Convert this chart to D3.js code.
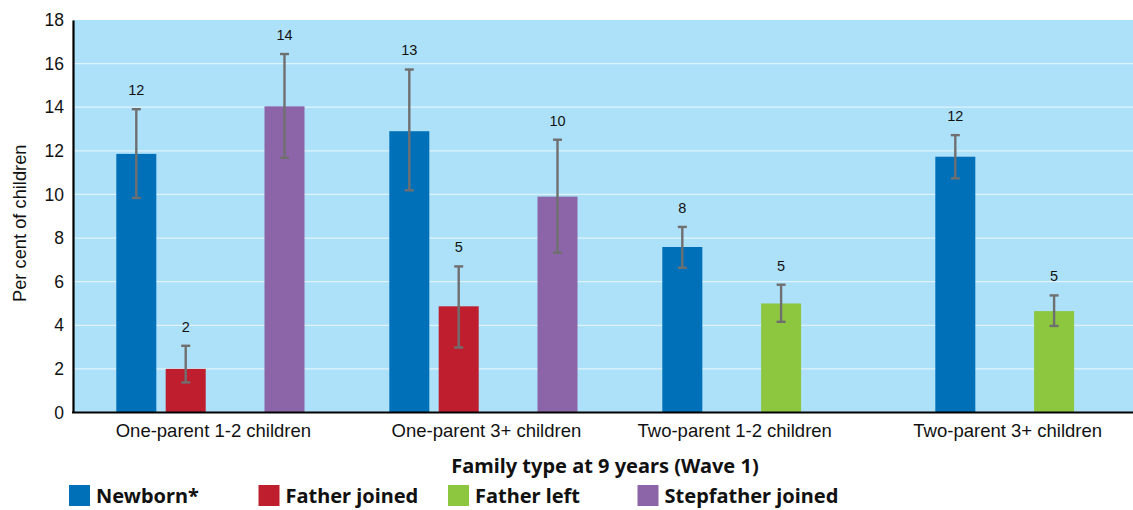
<!DOCTYPE html>
<html>
<head>
<meta charset="utf-8">
<script src="https://cdn.jsdelivr.net/npm/d3@7"></script>
<style>
  html, body { margin: 0; padding: 0; background: #ffffff; }
  svg { display: block; }
</style>
</head>
<body>
<svg id="chart" width="1133" height="510"></svg>
<script>
// ---- data ----
const categories = ["One-parent 1-2 children", "One-parent 3+ children", "Two-parent 1-2 children", "Two-parent 3+ children"];
const seriesNames = ["Newborn*", "Father joined", "Father left", "Stepfather joined"];
const newborn          = [11.86, 12.90, 7.59, 11.73];
const newbornLow       = [9.84, 10.19, 6.64, 10.74];
const newbornHigh      = [13.91, 15.73, 8.51, 12.72];
const fatherJoined     = [2.00, 4.87, null, null];
const fatherJoinedLow  = [1.38, 2.98, null, null];
const fatherJoinedHigh = [3.06, 6.70, null, null];
const fatherLeft       = [null, null, 5.00, 4.65];
const fatherLeftLow    = [null, null, 4.16, 3.97];
const fatherLeftHigh   = [null, null, 5.86, 5.37];
const stepfather       = [14.04, 9.90, null, null];
const stepfatherLow    = [11.68, 7.33, null, null];
const stepfatherHigh   = [16.44, 12.51, null, null];
const yTicks = [0, 2, 4, 6, 8, 10, 12, 14, 16, 18];
const yTitle = "Per cent of children";
const xTitle = "Family type at 9 years (Wave 1)";

const seriesValues = [newborn, fatherJoined, fatherLeft, stepfather];
const seriesLow = [newbornLow, fatherJoinedLow, fatherLeftLow, stepfatherLow];
const seriesHigh = [newbornHigh, fatherJoinedHigh, fatherLeftHigh, stepfatherHigh];
const colors = ["#0071b9", "#be1e2d", "#8dc63f", "#8c65a8"];

// ---- layout ----
const W = 1133, H = 510;
const plotLeft = 73, plotRight = 1133, plotTop = 20, plotBottom = 412.5;

const svg = d3.select("#chart");

const y = d3.scaleLinear().domain([0, 18]).range([plotBottom, plotTop]);
const x0 = d3.scaleBand().domain(categories).range([73.5, 1165.5]).paddingInner(0).paddingOuter(0);
const x1 = d3.scaleBand().domain(seriesNames).range([42.8, 231]).paddingInner(0.19).paddingOuter(0);
const color = d3.scaleOrdinal().domain(seriesNames).range(colors);

// background
svg.append("rect")
  .attr("x", plotLeft).attr("y", plotTop)
  .attr("width", plotRight - plotLeft).attr("height", plotBottom - plotTop)
  .attr("fill", "#ade1fa");

// gridlines
svg.append("g").selectAll("line")
  .data(yTicks.filter(t => t > 0 && t < 18))
  .join("line")
  .attr("x1", plotLeft).attr("x2", plotRight)
  .attr("y1", d => y(d)).attr("y2", d => y(d))
  .attr("stroke", "#dff3fd").attr("stroke-width", 1.2);

// flatten bar data
const bars = [];
categories.forEach((c, ci) => {
  seriesNames.forEach((s, si) => {
    const v = seriesValues[si][ci];
    if (v !== null) {
      bars.push({ cat: c, series: s, value: v, low: seriesLow[si][ci], high: seriesHigh[si][ci] });
    }
  });
});

const groups = svg.append("g");
groups.selectAll("rect.bar")
  .data(bars)
  .join("rect")
  .attr("class", "bar")
  .attr("x", d => x0(d.cat) + x1(d.series))
  .attr("y", d => y(d.value))
  .attr("width", x1.bandwidth())
  .attr("height", d => y(0) - y(d.value))
  .attr("fill", d => color(d.series));

// error bars
const eb = svg.append("g").attr("stroke", "#6f6f70").attr("stroke-width", 2.4).attr("fill", "none");
bars.forEach(d => {
  const cx = x0(d.cat) + x1(d.series) + x1.bandwidth() / 2;
  eb.append("line").attr("x1", cx).attr("x2", cx).attr("y1", y(d.high)).attr("y2", y(d.low));
  eb.append("line").attr("x1", cx - 4.5).attr("x2", cx + 4.5).attr("y1", y(d.high)).attr("y2", y(d.high));
  eb.append("line").attr("x1", cx - 4.5).attr("x2", cx + 4.5).attr("y1", y(d.low)).attr("y2", y(d.low));
});

// value labels
svg.append("g").selectAll("text")
  .data(bars)
  .join("text")
  .attr("x", d => x0(d.cat) + x1(d.series) + x1.bandwidth() / 2)
  .attr("y", d => y(d.high) - 14)
  .attr("text-anchor", "middle")
  .attr("font-family", "Liberation Sans, Arial, sans-serif")
  .attr("font-size", 14.5)
  .attr("fill", "#111")
  .text(d => d3.format(".0f")(d.value));

// y axis
const yAxis = svg.append("g")
  .attr("transform", `translate(${plotLeft},0)`)
  .call(d3.axisLeft(y).tickValues(yTicks).tickSize(0).tickPadding(9));
yAxis.select(".domain").attr("stroke", "#000").attr("stroke-width", 2.2);
yAxis.selectAll("text")
  .attr("font-family", "Liberation Sans, Arial, sans-serif")
  .attr("font-size", 17.5)
  .attr("fill", "#111");

// x axis line
svg.append("line")
  .attr("x1", plotLeft - 1).attr("x2", plotRight)
  .attr("y1", y(0)).attr("y2", y(0))
  .attr("stroke", "#000").attr("stroke-width", 2);

// x category labels: centred on the extent of the bars present in each group
const labelCenter = c => {
  const bs = bars.filter(b => b.cat === c);
  const lo = d3.min(bs, b => x0(c) + x1(b.series));
  const hi = d3.max(bs, b => x0(c) + x1(b.series) + x1.bandwidth());
  return (lo + hi) / 2;
};
svg.append("g").selectAll("text")
  .data(categories)
  .join("text")
  .attr("x", d => labelCenter(d) + 3)
  .attr("y", 437)
  .attr("text-anchor", "middle")
  .attr("font-family", "Liberation Sans, Arial, sans-serif")
  .attr("font-size", 18.5)
  .attr("fill", "#111")
  .text(d => d);

// y title
svg.append("text")
  .attr("transform", `translate(26,${(plotTop + plotBottom) / 2 + 7}) rotate(-90)`)
  .attr("text-anchor", "middle")
  .attr("font-family", "Liberation Sans, Arial, sans-serif")
  .attr("font-size", 18.3)
  .attr("fill", "#111")
  .text(yTitle);

// x title
svg.append("text")
  .attr("x", 605).attr("y", 473)
  .attr("text-anchor", "middle")
  .attr("font-family", "Noto Sans, sans-serif")
  .attr("font-weight", "bold")
  .attr("font-size", 20)
  .attr("fill", "#111")
  .text(xTitle);

// legend
const legendX = d3.scalePoint().domain(seriesNames).range([69, 69 + 3 * 189.5]);
const leg = svg.append("g").selectAll("g")
  .data(seriesNames)
  .join("g")
  .attr("transform", d => `translate(${legendX(d)},485)`);
leg.append("rect").attr("width", 21).attr("height", 21).attr("fill", d => color(d));
leg.append("text")
  .attr("x", 27).attr("y", 18)
  .attr("font-family", "Noto Sans, sans-serif")
  .attr("font-weight", "bold")
  .attr("font-size", 20)
  .attr("fill", "#111")
  .text(d => d);
</script>
</body>
</html>
